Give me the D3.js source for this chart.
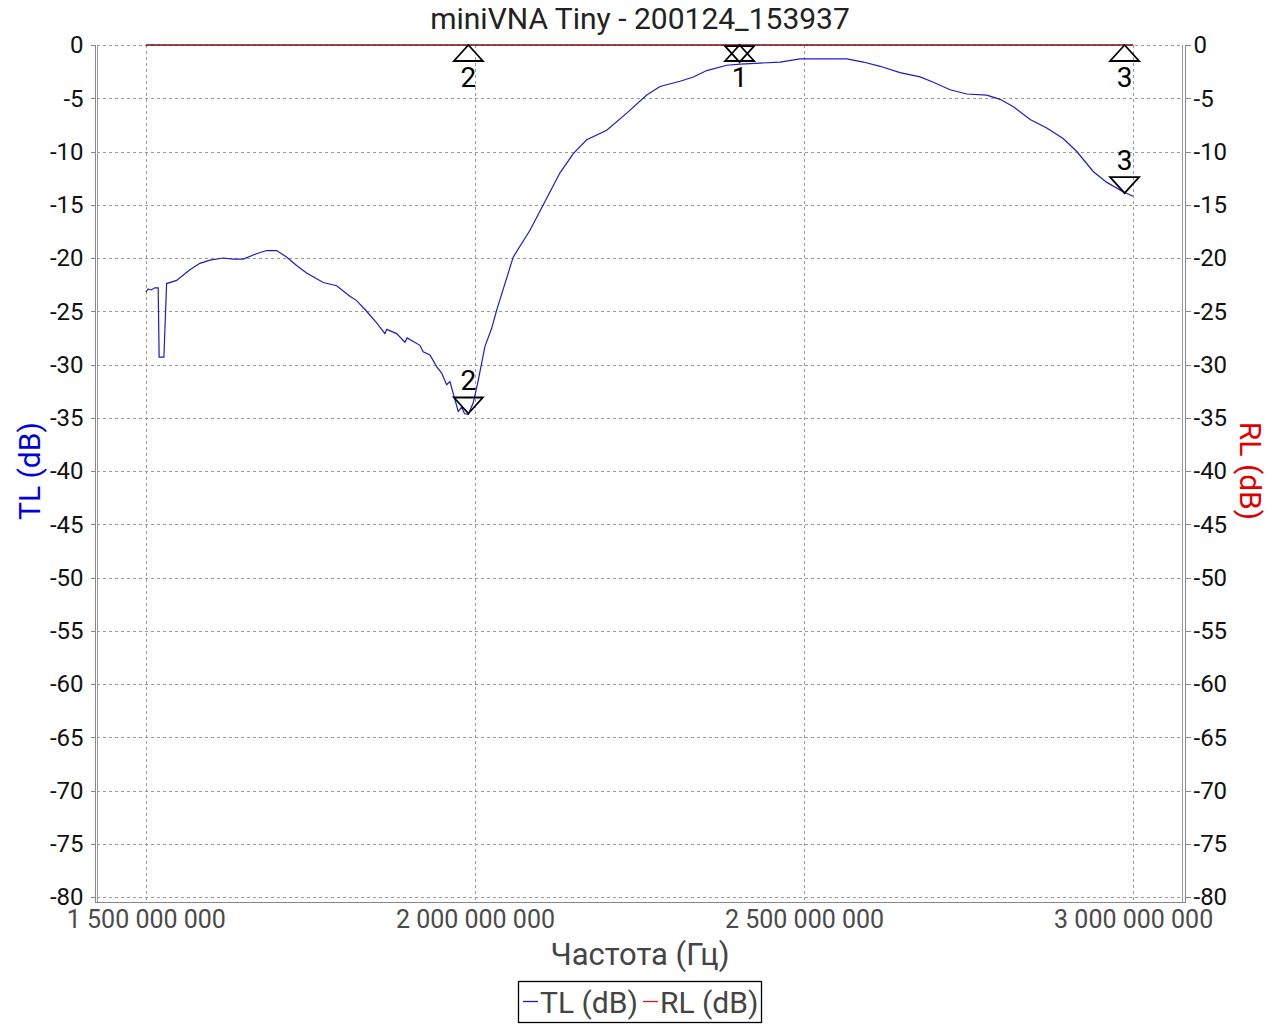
<!DOCTYPE html>
<meta charset="utf-8">
<style>
body { margin: 0; background: #fff; }
text { font-family: Roboto, "Noto Sans", sans-serif; }
.grid line { stroke: #9a9a9a; stroke-width: 1px; stroke-dasharray: 3,3; shape-rendering: crispEdges; }
.axis path, .axis line { stroke: #888; shape-rendering: crispEdges; }
.axis text { font-size: 24px; }
.axis.xa text { font-size: 25px; fill: #4a4a4a; }
</style>
<body>
<script src="https://d3js.org/d3.v7.min.js"></script>
<script>
// frequency (MHz) and transmission loss (dB)
var tlFreq = [1500, 1503.5, 1508, 1513.7, 1518.7, 1520.2, 1527.4, 1531.5, 1546.7, 1566.9, 1582.1, 1597.3,
    1617.5, 1632.7, 1647.9, 1668.2, 1683.4, 1698.6, 1713.8, 1729.0, 1744.2, 1769.5, 1789.8, 1810.0,
    1820.2, 1835.4, 1850.6, 1863.2, 1866, 1881.0, 1893.6, 1897, 1916.4, 1921.4, 1931.6, 1941.8, 1949.4,
    1957.0, 1962.0, 1969.6, 1974.6, 1979.8, 1984, 1989.8, 1997.4, 2005.0, 2015.2, 2025.4, 2033.0,
    2058.2, 2083.6, 2103.8, 2129.2, 2149.4, 2169.8, 2200.2, 2230.6, 2261.0, 2281.2, 2311.6, 2331.8,
    2352.2, 2382.6, 2402.8, 2433.2, 2463.6, 2494.0, 2524.3, 2564.9, 2590.1, 2615.5, 2645.9, 2676.3,
    2696.5, 2721.9, 2747.2, 2777.6, 2797.9, 2818.1, 2843.5, 2868.8, 2894.1, 2914.4, 2939.7, 2960.1,
    2985.3, 3000];
var tlValue = [-23.2, -22.9, -23.0, -22.8, -22.8, -29.3, -29.3, -22.4, -22.1, -21.1, -20.5, -20.2,
    -20.0, -20.1, -20.1, -19.6, -19.3, -19.3, -19.9, -20.7, -21.4, -22.3, -22.6, -23.6,
    -24.0, -25.0, -26.1, -27.1, -26.7, -27.1, -27.9, -27.5, -28.2, -28.8, -29.1, -30.2, -30.8,
    -31.9, -31.6, -33.3, -34.4, -34.0, -34.6, -34.7, -33.6, -31.5, -28.3, -26.6, -24.9,
    -19.9, -17.4, -15.0, -12.0, -10.2, -8.9, -8.0, -6.4, -4.7, -3.9, -3.4, -3.0,
    -2.4, -1.9, -1.8, -1.7, -1.6, -1.3, -1.3, -1.3, -1.6, -2.0, -2.6, -3.0,
    -3.5, -4.2, -4.6, -4.7, -5.1, -5.8, -7.0, -7.8, -8.8, -10.0, -11.9, -12.9,
    -13.8, -14.2];
// return loss trace (flat at 0 dB)
var rlFreq = [1500, 3000];
var rlValue = [0, 0];

// markers: id, frequency (MHz), TL value, RL value
var markerIds = ["1", "2", "3"];
var markerFreq = [2402, 1990, 2987];
var markerTL = [-1.6, -34.6, -13.9];
var markerRL = [0, 0, 0];

var yTicks = d3.range(0, -85, -5);
var xTicks = [1.5e9, 2e9, 2.5e9, 3e9];

var W = 1280, H = 1024;
var svg = d3.select("body").append("svg").attr("width", W).attr("height", H);

var x = d3.scaleLinear().domain([1425e6, 3075e6]).range([96.5, 1182.5]);
var y = d3.scaleLinear().domain([-80, 0]).range([897, 45]);

// gridlines
var grid = svg.append("g").attr("class", "grid");
grid.selectAll(".gy").data(yTicks).enter().append("line")
    .attr("x1", 97).attr("x2", 1183)
    .attr("y1", function(d) { return Math.round(y(d)) + 0.5; })
    .attr("y2", function(d) { return Math.round(y(d)) + 0.5; });
grid.selectAll(".gx").data(xTicks).enter().append("line")
    .attr("y1", 45).attr("y2", 901)
    .attr("x1", function(d) { return Math.round(x(d)) + 0.5; })
    .attr("x2", function(d) { return Math.round(x(d)) + 0.5; });

// plot frame
svg.append("line").attr("x1", 97.5).attr("x2", 97.5).attr("y1", 45).attr("y2", 902)
    .attr("stroke", "#999");
svg.append("line").attr("x1", 1182.5).attr("x2", 1182.5).attr("y1", 45).attr("y2", 902)
    .attr("stroke", "#999");

// axes
var fmtHz = function(d) { return d3.format(",")(d).replace(/,/g, " "); };
var fmtDb = function(d) { return String(d); };
var xAxis = svg.append("g").attr("class", "axis xa").attr("transform", "translate(0,902.5)")
    .call(d3.axisBottom(x).tickValues(xTicks).tickSize(0).tickPadding(8).tickFormat(fmtHz));
xAxis.select(".domain").attr("d", "M95,0H1186");

var yLeft = svg.append("g").attr("class", "axis").attr("transform", "translate(95.5,0)")
    .call(d3.axisLeft(y).tickValues(yTicks).tickSize(5).tickPadding(7).tickFormat(fmtDb));
yLeft.select(".domain").attr("d", "M0,45V903");
yLeft.selectAll("text").attr("fill", "#111").attr("dy", "0.33em");

var yRight = svg.append("g").attr("class", "axis").attr("transform", "translate(1185.5,0)")
    .call(d3.axisRight(y).tickValues(yTicks).tickSize(5).tickPadding(3).tickFormat(fmtDb));
yRight.select(".domain").attr("d", "M0,45V903");
yRight.selectAll("text").attr("fill", "#111").attr("dy", "0.33em");

// traces
var line = d3.line().x(function(d) { return x(d[0] * 1e6); }).y(function(d) { return y(d[1]); });
svg.append("path").datum(d3.zip(rlFreq, rlValue)).attr("d", line)
    .attr("fill", "none").attr("stroke", "#7a0a0a").attr("stroke-width", 1.3);
svg.append("path").datum(d3.zip(tlFreq, tlValue)).attr("d", line)
    .attr("fill", "none").attr("stroke", "#1c1cc4").attr("stroke-width", 1.2);

// markers
var mk = svg.append("g").attr("fill", "none").attr("stroke", "#000").attr("stroke-width", 1.8);
var labs = svg.append("g").attr("font-size", 28).attr("fill", "#000").attr("text-anchor", "middle");
var tw = 14.5, th = 16;
markerIds.forEach(function(id, i) {
    var mx = x(markerFreq[i] * 1e6);
    // RL marker: upward triangle, apex on the RL value
    var ry = y(markerRL[i]);
    mk.append("path").attr("d", "M" + mx + "," + ry + "L" + (mx + tw) + "," + (ry + th) +
        "L" + (mx - tw) + "," + (ry + th) + "Z");
    labs.append("text").attr("x", mx).attr("y", ry + th + 26).text(id);
    // TL marker: downward triangle, apex on the TL value
    var ty = y(markerTL[i]);
    mk.append("path").attr("d", "M" + mx + "," + ty + "L" + (mx + tw) + "," + (ty - th) +
        "L" + (mx - tw) + "," + (ty - th) + "Z");
    if (ty - th - 30 > ry + th) {
        labs.append("text").attr("x", mx).attr("y", ty - th - 7).text(id);
    }
});

// titles
svg.append("text").attr("x", 640).attr("y", 29).attr("text-anchor", "middle")
    .attr("font-size", 30).attr("fill", "#222").text("miniVNA Tiny - 200124_153937");
svg.append("text").attr("x", 640).attr("y", 965).attr("text-anchor", "middle")
    .attr("font-size", 31).attr("fill", "#444").text("Частота (Гц)");
svg.append("text").attr("transform", "translate(40,471) rotate(-90)").attr("text-anchor", "middle")
    .attr("font-size", 30).attr("fill", "#0000e0").text("TL (dB)");
svg.append("text").attr("transform", "translate(1240,471) rotate(90)").attr("text-anchor", "middle")
    .attr("font-size", 30).attr("fill", "#e00000").text("RL (dB)");

// legend
var lg = svg.append("g");
lg.append("rect").attr("x", 518.5).attr("y", 981.5).attr("width", 243).attr("height", 41)
    .attr("fill", "#fff").attr("stroke", "#000").attr("stroke-width", 1.3);
lg.append("line").attr("x1", 523).attr("x2", 538).attr("y1", 1001.5).attr("y2", 1001.5)
    .attr("stroke", "#1c1cc4").attr("stroke-width", 1.3);
lg.append("text").attr("x", 540).attr("y", 1013).attr("font-size", 30).attr("fill", "#444").text("TL (dB)");
lg.append("line").attr("x1", 643).attr("x2", 658).attr("y1", 1001.5).attr("y2", 1001.5)
    .attr("stroke", "#cc2020").attr("stroke-width", 1.3);
lg.append("text").attr("x", 660).attr("y", 1013).attr("font-size", 30).attr("fill", "#444").text("RL (dB)");
</script>
</body>
